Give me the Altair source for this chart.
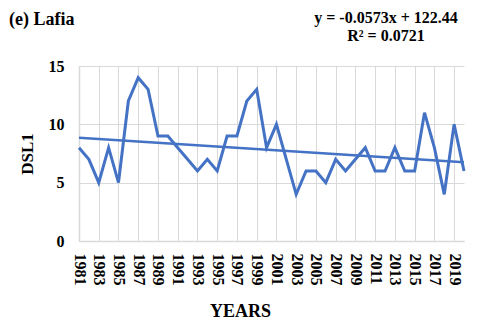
import altair as alt
import pandas as pd

years = list(range(1981, 2021))
dsl1 = [8, 7, 5, 8, 5, 12, 14, 13, 9, 9,
        8, 7, 6, 7, 6, 9, 9, 12, 13, 8,
        10, 7, 4, 6, 6, 5, 7, 6, 7, 8,
        6, 6, 8, 6, 6, 11, 8, 4, 10, 6]
tick_years = list(range(1981, 2020, 2))
y_ticks = [0, 5, 10, 15]

title_text = "(e) Lafia"
eq_text = "y = -0.0573x + 122.44"
r2_text = "R² = 0.0721"

df = pd.DataFrame({"year": years, "dsl": dsl1})

FONT = "Liberation Serif"
BLUE = "#4472C4"
GRID = "#d9d9d9"

x_enc = alt.X(
    "year:Q",
    scale=alt.Scale(domain=[1981, 2020], nice=False, zero=False),
    axis=alt.Axis(
        values=tick_years, format="d", labelAngle=90, labelFont=FONT,
        labelFontSize=16, labelFontWeight="bold", labelColor="black",
        labelPadding=12, ticks=False, grid=True, gridColor=GRID,
        domainColor=GRID, domainWidth=1.5, title="YEARS", titleFont=FONT,
        titleFontSize=18, titleFontWeight="bold", titleColor="black",
        titleX=161, titleY=75, titleBaseline="alphabetic", titleAlign="center",
        labelOverlap=False, labelFlush=False, labelBound=False,
    ),
)
y_enc = alt.Y(
    "dsl:Q",
    scale=alt.Scale(domain=[0, 15], nice=False),
    axis=alt.Axis(
        values=y_ticks, labelFont=FONT, labelFontSize=16, labelFontWeight="bold",
        labelColor="black", labelPadding=15, ticks=False, grid=True,
        gridColor=GRID, domainColor=GRID, domainWidth=1.5, title="DSL1",
        titleFont=FONT, titleFontSize=17, titleFontWeight="bold",
        titleColor="black", titlePadding=12,
    ),
)

line = alt.Chart(df).mark_line(color=BLUE, strokeWidth=3).encode(x=x_enc, y=y_enc)

trend = alt.Chart(df).transform_regression(
    "year", "dsl", extent=[1981, 2020]
).mark_line(color=BLUE, strokeWidth=2.5).encode(x=x_enc, y=y_enc)

def label(text, x, y, size, align):
    return alt.Chart(pd.DataFrame({"t": [text]})).mark_text(
        font=FONT, fontSize=size, fontWeight="bold", color="black",
        align=align, baseline="alphabetic",
    ).encode(text="t:N", x=alt.value(x), y=alt.value(y))

t1 = label(title_text, -70, -41, 18, "left")
t2 = label(eq_text, 307, -43, 16, "center")
t3 = label(r2_text, 307, -25, 16, "center")

chart = alt.layer(line, trend, t1, t2, t3).properties(
    width=385, height=175,
    autosize=alt.AutoSizeParams(type="none"),
    padding={"left": 71, "top": 58, "right": 8, "bottom": 79},
).configure_view(strokeWidth=0).configure_axisX(labelOverlap=False)

chart.save("out.html", embed_options={"renderer": "svg", "actions": False})
